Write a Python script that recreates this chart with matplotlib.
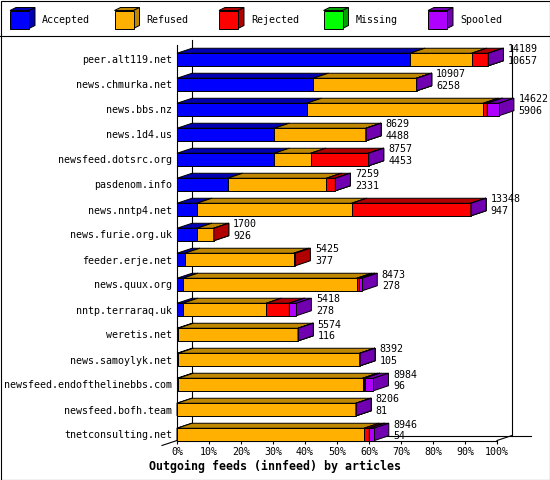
import matplotlib
matplotlib.use("Agg")
import matplotlib.pyplot as plt
from matplotlib.patches import Polygon, Rectangle

plt.rcParams['font.family'] = 'DejaVu Sans Mono'
plt.rcParams['font.size'] = 7.2

# hosts, top to bottom
hosts = ["peer.alt119.net", "news.chmurka.net", "news.bbs.nz", "news.1d4.us",
         "newsfeed.dotsrc.org", "pasdenom.info", "news.nntp4.net",
         "news.furie.org.uk", "feeder.erje.net", "news.quux.org",
         "nntp.terraraq.uk", "weretis.net", "news.samoylyk.net",
         "newsfeed.endofthelinebbs.com", "newsfeed.bofh.team",
         "tnetconsulting.net"]
offered = [14189, 10907, 14622, 8629, 8757, 7259, 13348, 1700, 5425, 8473,
           5418, 5574, 8392, 8984, 8206, 8946]
accepted = [10657, 6258, 5906, 4488, 4453, 2331, 947, 926, 377, 278, 278,
            116, 105, 96, 81, 54]

# stacked percentages (None = not present)
acc_pct = [72.8, 42.6, 40.5, 30.4, 30.4, 15.8, 6.2, 6.2, 2.4, 1.8, 1.8,
           0.4, 0.4, 0.4, 0.0, 0.0]
ref_pct = [19.3, 32.3, 55.2, 28.7, 11.4, 30.9, 48.4, 5.3, 34.1, 54.4, 26.1,
           37.5, 56.8, 57.6, 56.0, 58.5]
rej_pct = [5.2, 0, 1.25, 0, 18.1, 2.8, 37.3, 0, 0.5, 0.8, 7.2, 0, 0, 0.6, 0,
           1.6]
mis_pct = [0, 0, 0, 0, 0, 0, 0, None, None, 0, 0, 0, 0, 0, 0, 0]
spo_pct = [0, 0, 3.65, 0, 0, 0, 0, None, None, 0.9, 2.2, 0, 0, 2.8, 0, 1.4]

series = ["Accepted", "Refused", "Rejected", "Missing", "Spooled"]
values = [acc_pct, ref_pct, rej_pct, mis_pct, spo_pct]
colors = ["#0000ff", "#ffb000", "#ff0000", "#00ff00", "#b000ff"]
shades = ["#0000b0", "#c08800", "#b00000", "#00a000", "#7000b0"]

W, H = 550, 480
fig = plt.figure(figsize=(W / 100, H / 100), dpi=100)

# background / frame / legend in pixel coords
bg = fig.add_axes([0, 0, 1, 1])
bg.set_xlim(0, W)
bg.set_ylim(H, 0)
bg.axis('off')
bg.add_patch(Rectangle((0.5, 0.5), W - 1, H - 1, fill=False, lw=0.8,
                       ec='black'))
bg.plot([0, W], [35.5, 35.5], color='black', lw=0.8)

leg_x = [10, 114.5, 219, 323.5, 428]
for k, name in enumerate(series):
    x0 = leg_x[k]
    y0, y1 = 10.5, 28.5
    bg.add_patch(Polygon([(x0, y0), (x0 + 19, y0), (x0 + 25, y0 - 3),
                          (x0 + 6, y0 - 3)], fc=shades[k], ec='black', lw=0.7))
    bg.add_patch(Polygon([(x0 + 19, y0), (x0 + 25, y0 - 3), (x0 + 25, y1 - 3),
                          (x0 + 19, y1)], fc=shades[k], ec='black', lw=0.7))
    bg.add_patch(Rectangle((x0, y0), 19, y1 - y0, fc=colors[k], ec='black',
                           lw=0.7))
    bg.text(x0 + 32, 20, name, va='center', ha='left')

bg.text(275, 466, "Outgoing feeds (innfeed) by articles", fontsize=8.4,
        fontweight='bold', ha='center', va='center')

# main axes: x in percent, y in rows
ax = fig.add_axes([177 / W, (H - 440.5) / H, 320 / W, 405.5 / H])
ax.set_xlim(0, 100)
ax.set_ylim(15.24, -0.98)
ax.patch.set_visible(False)
for s in ['top', 'right']:
    ax.spines[s].set_visible(False)
ax.spines['left'].set_bounds(15.24, -0.58)
ax.spines['left'].set_linewidth(0.8)
ax.spines['bottom'].set_linewidth(0.8)

DX = 15 / 3.2   # depth in percent
DY = 5 / 25     # depth in rows
HB = 0.25

# back wall and floor
ax.plot([DX, DX], [-0.78, 15.24 - DY], color='black', lw=0.8, clip_on=False,
        zorder=1)
ax.plot([100 + DX, 100 + DX], [-0.58, 15.24 - DY], color='black', lw=0.8,
        clip_on=False, zorder=1)
ax.plot([DX, 110.6], [15.24 - DY, 15.24 - DY], color='black', lw=0.8,
        clip_on=False, zorder=1)
ax.plot([100, 100 + DX], [15.24, 15.24 - DY], color='black', lw=0.8,
        clip_on=False, zorder=1)
ax.plot([-4.7, DX], [15.24 + DY, 15.24 - DY], color='black', lw=0.8,
        clip_on=False, zorder=1)

for i in range(len(hosts)):
    cum = 0.0
    for k in range(len(series)):
        v = values[k][i]
        if v is None:
            continue
        x0, x1 = cum, cum + v
        yt, yb = i - HB, i + HB
        ax.add_patch(Polygon([(x0, yt), (x1, yt), (x1 + DX, yt - DY),
                              (x0 + DX, yt - DY)], fc=shades[k], ec='black',
                             lw=0.7, clip_on=False, zorder=3))
        ax.add_patch(Polygon([(x1, yt), (x1 + DX, yt - DY), (x1 + DX, yb - DY),
                              (x1, yb)], fc=shades[k], ec='black', lw=0.7,
                             clip_on=False, zorder=3))
        if v > 0:
            ax.add_patch(Rectangle((x0, yt), v, yb - yt, fc=colors[k],
                                   ec='black', lw=0.7, clip_on=False,
                                   zorder=3))
        cum = x1
    tx = cum + DX + 1.4
    ax.text(tx, i - 0.40, str(offered[i]), va='center', ha='left', zorder=4,
            clip_on=False)
    ax.text(tx, i + 0.06, str(accepted[i]), va='center', ha='left', zorder=4,
            clip_on=False)

ax.set_xticks(range(0, 101, 10))
ax.set_xticklabels([f"{v}%" for v in range(0, 101, 10)])
ax.tick_params(axis='x', direction='out', length=2.5, width=0.8, pad=2.5)
ax.set_yticks(range(len(hosts)))
ax.set_yticklabels(hosts)
ax.tick_params(axis='y', length=0, pad=3.6)

fig.savefig("out.png", dpi=100)
